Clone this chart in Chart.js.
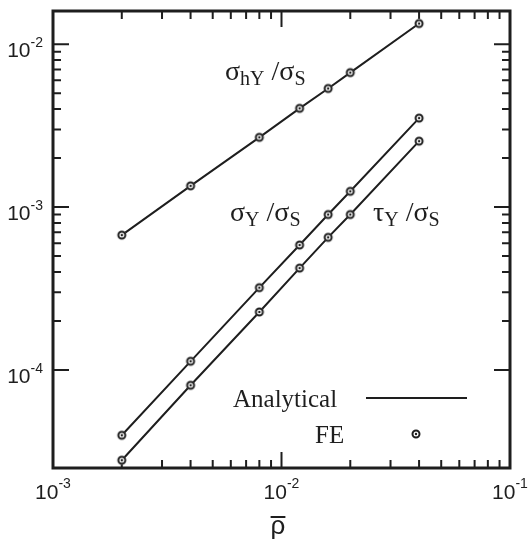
<!DOCTYPE html>
<html lang="en">
<head>
  <meta charset="UTF-8">
  <title>Yield strength vs relative density</title>
  <script src="https://cdn.jsdelivr.net/npm/chart.js"></script>
  <style>
    body { margin: 0; background: #fff; }
    #wrap { width: 528px; height: 543px; position: relative; }
  </style>
</head>
<body>
  <div id="wrap"><canvas id="yieldChart"></canvas></div>
  <script>
    // relative density and normalised yield strengths (FE points, analytical line through them)
    const rho = [0.002, 0.004, 0.008, 0.012, 0.016, 0.02, 0.04];
    const sigmaHY = [6.73e-4, 1.35e-3, 2.68e-3, 4.04e-3, 5.35e-3, 6.7e-3, 1.34e-2];
    const sigmaY = [3.97e-5, 1.13e-4, 3.2e-4, 5.85e-4, 9.0e-4, 1.25e-3, 3.52e-3];
    const tauY = [2.79e-5, 8.05e-5, 2.27e-4, 4.22e-4, 6.52e-4, 9.0e-4, 2.54e-3];

    const xMajor = [1e-3, 1e-2, 1e-1];
    const xTickExp = ['-3', '-2', '-1'];
    const yMajor = [1e-4, 1e-3, 1e-2];
    const yTickExp = ['-4', '-3', '-2'];

    const ink = '#1e1e1e';
    const serif = '"Liberation Serif", "Times New Roman", serif';
    const sans = '"Liberation Sans", Arial, sans-serif';

    // ring-with-dot marker used for FE results
    function makeMarker() {
      const c = document.createElement('canvas');
      c.width = 12; c.height = 12;
      const g = c.getContext('2d');
      g.fillStyle = '#fff';
      g.beginPath(); g.arc(6, 6, 4.4, 0, Math.PI * 2); g.fill();
      g.strokeStyle = ink; g.lineWidth = 2;
      g.beginPath(); g.arc(6, 6, 3.5, 0, Math.PI * 2); g.stroke();
      g.fillStyle = ink;
      g.beginPath(); g.arc(6, 6, 1.2, 0, Math.PI * 2); g.fill();
      return c;
    }
    const marker = makeMarker();

    function series(values) {
      return {
        data: rho.map((r, i) => ({ x: r, y: values[i] })),
        borderColor: ink,
        borderWidth: 2,
        pointStyle: marker,
        pointRadius: 5,
        fill: false,
        tension: 0
      };
    }

    // draws text runs like [text, fontSize, font, dy] one after another
    function drawRuns(ctx, x, y, runs) {
      let cx = x;
      runs.forEach(r => {
        ctx.font = r[1] + 'px ' + r[2];
        ctx.fillText(r[0], cx, y + (r[3] || 0));
        cx += ctx.measureText(r[0]).width;
      });
    }

    function ratioLabel(head, sub) {
      return [[head, 28, serif], [sub, 20, serif, 5], [' /', 28, serif], ['σ', 28, serif], ['S', 20, serif, 5]];
    }

    const framePlugin = {
      id: 'frame',
      beforeDatasetsDraw(chart) {
        const ctx = chart.ctx;
        const a = chart.chartArea;
        const xs = chart.scales.x, ys = chart.scales.y;
        ctx.save();
        ctx.strokeStyle = ink;
        ctx.lineWidth = 2;
        ctx.beginPath();
        // x ticks, top and bottom
        for (let d = 0; d < xMajor.length; d++) {
          const base = xMajor[d];
          const px = xs.getPixelForValue(base);
          ctx.moveTo(px, a.bottom); ctx.lineTo(px, a.bottom - 16);
          ctx.moveTo(px, a.top); ctx.lineTo(px, a.top + 16);
          if (d === xMajor.length - 1) break;
          for (let m = 2; m <= 9; m++) {
            const mx = xs.getPixelForValue(base * m);
            ctx.moveTo(mx, a.bottom); ctx.lineTo(mx, a.bottom - 8);
            ctx.moveTo(mx, a.top); ctx.lineTo(mx, a.top + 8);
          }
        }
        // y ticks, left and right (minor ticks only inside full decades)
        for (let d = 0; d < yMajor.length; d++) {
          const base = yMajor[d];
          const py = ys.getPixelForValue(base);
          ctx.moveTo(a.left, py); ctx.lineTo(a.left + 16, py);
          ctx.moveTo(a.right, py); ctx.lineTo(a.right - 16, py);
          if (d === yMajor.length - 1) break;
          for (let m = 2; m <= 9; m++) {
            const my = ys.getPixelForValue(base * m);
            ctx.moveTo(a.left, my); ctx.lineTo(a.left + 8, my);
            ctx.moveTo(a.right, my); ctx.lineTo(a.right - 8, my);
          }
        }
        ctx.stroke();
        ctx.lineWidth = 3;
        ctx.strokeRect(a.left, a.top, a.right - a.left, a.bottom - a.top);
        ctx.restore();
      },
      afterDraw(chart) {
        const ctx = chart.ctx;
        const a = chart.chartArea;
        const xs = chart.scales.x, ys = chart.scales.y;
        ctx.save();
        ctx.fillStyle = ink;
        ctx.textBaseline = 'alphabetic';
        ctx.textAlign = 'left';

        // tick labels 10^n
        xMajor.forEach((v, i) => {
          ctx.font = '21px ' + sans;
          const w1 = ctx.measureText('10').width;
          ctx.font = '14px ' + sans;
          const w2 = ctx.measureText(xTickExp[i]).width;
          const x0 = xs.getPixelForValue(v) - (w1 + w2) / 2;
          drawRuns(ctx, x0, a.bottom + 31, [['10', 21, sans], [xTickExp[i], 14, sans, -11]]);
        });
        yMajor.forEach((v, i) => {
          ctx.font = '21px ' + sans;
          const w1 = ctx.measureText('10').width;
          ctx.font = '14px ' + sans;
          const w2 = ctx.measureText(yTickExp[i]).width;
          const x0 = a.left - 10 - w1 - w2;
          drawRuns(ctx, x0, ys.getPixelForValue(v) + 13, [['10', 21, sans], [yTickExp[i], 14, sans, -10]]);
        });

        // axis title: rho with overbar
        ctx.font = '26px ' + sans;
        const rw = ctx.measureText('ρ').width;
        const rx = 278 - rw / 2;
        ctx.fillText('ρ', rx, 534);
        ctx.fillRect(rx, 516, rw, 2);

        // curve labels
        drawRuns(ctx, 225, 80, ratioLabel('σ', 'hY'));
        drawRuns(ctx, 230, 221, ratioLabel('σ', 'Y'));
        drawRuns(ctx, 373, 221, ratioLabel('τ', 'Y'));

        // legend
        ctx.font = '25px ' + serif;
        ctx.fillText('Analytical', 233, 407);
        ctx.fillText('FE', 315, 443);
        ctx.strokeStyle = ink;
        ctx.lineWidth = 2;
        ctx.beginPath();
        ctx.moveTo(366, 398); ctx.lineTo(467, 398);
        ctx.stroke();
        ctx.drawImage(marker, 416 - 6, 434 - 6);
        ctx.restore();
      }
    };

    new Chart(document.getElementById('yieldChart'), {
      type: 'line',
      data: { datasets: [series(sigmaHY), series(sigmaY), series(tauY)] },
      options: {
        responsive: true,
        maintainAspectRatio: false,
        animation: false,
        layout: { padding: { left: 53, right: 18, top: 11, bottom: 75 } },
        plugins: { legend: { display: false }, tooltip: { enabled: false } },
        scales: {
          x: { type: 'logarithmic', min: 1e-3, max: 1e-1, display: false },
          y: { type: 'logarithmic', min: 2.5e-5, max: 1.6e-2, display: false }
        }
      },
      plugins: [framePlugin]
    });
  </script>
</body>
</html>
